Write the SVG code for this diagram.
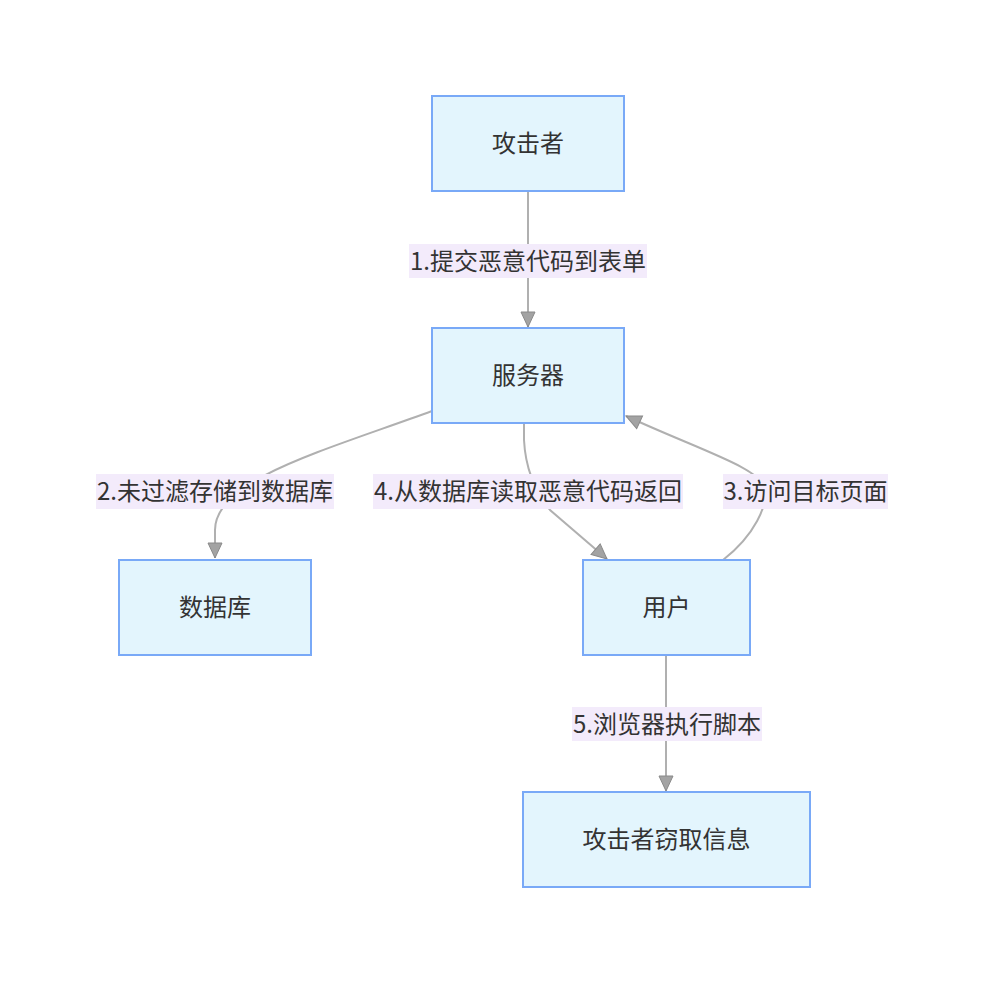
<svg xmlns="http://www.w3.org/2000/svg" width="984" height="984" viewBox="0 0 984 984">
<style>
.node rect{fill:#e3f5fd;stroke:#79a9f7;stroke-width:2}
.t{font-family:"Noto Sans CJK SC","Noto Sans",sans-serif;font-size:24px;fill:#333;text-anchor:middle;dominant-baseline:central}
.edge{fill:none;stroke:#b0b0b0;stroke-width:2}
.lbl rect{fill:#f3ebfb}
</style>
<defs>
<marker id="arr" markerUnits="userSpaceOnUse" markerWidth="18" markerHeight="18" viewBox="0 0 18 18" refX="16" refY="8" orient="auto">
<path d="M1,1 L16,8 L1,15 z" fill="#a3a3a3" stroke="#8a8a8a" stroke-width="1"/>
</marker>
</defs>
<rect width="984" height="984" fill="#fff"/>
<g id="edges">
<path class="edge" d="M528,191 L528,327" marker-end="url(#arr)"/>
<path class="edge" d="M432,411 C320,452 215,480 215,530 L215,558" marker-end="url(#arr)"/>
<path class="edge" d="M524,423 L524,440 Q526,480 550,510 L607,559" marker-end="url(#arr)"/>
<path class="edge" d="M723,560 C755,535 768,505 765,488 C760,468 700,450 626,416" marker-end="url(#arr)"/>
<path class="edge" d="M666,655 L666,791" marker-end="url(#arr)"/>
</g>
<g id="edge-labels">
<g class="lbl"><rect x="409" y="244" width="238" height="34"/><text class="t" x="528" y="259">1.提交恶意代码到表单</text></g>
<g class="lbl"><rect x="96" y="474" width="238" height="35"/><text class="t" x="215" y="489">2.未过滤存储到数据库</text></g>
<g class="lbl"><rect x="373" y="474" width="310" height="35"/><text class="t" x="528" y="489">4.从数据库读取恶意代码返回</text></g>
<g class="lbl"><rect x="723" y="474" width="165" height="35"/><text class="t" x="805.5" y="489">3.访问目标页面</text></g>
<g class="lbl"><rect x="572" y="707" width="190" height="34"/><text class="t" x="667" y="722">5.浏览器执行脚本</text></g>
</g>
<g id="attacker" class="node"><rect x="432" y="96" width="192" height="95"/><text class="t" x="528" y="141">攻击者</text></g>
<g id="server" class="node"><rect x="432" y="328" width="192" height="95"/><text class="t" x="528" y="373">服务器</text></g>
<g id="database" class="node"><rect x="119" y="560" width="192" height="95"/><text class="t" x="215" y="605">数据库</text></g>
<g id="user" class="node"><rect x="583" y="560" width="167" height="95"/><text class="t" x="666.5" y="605">用户</text></g>
<g id="steal" class="node"><rect x="523" y="792" width="287" height="95"/><text class="t" x="666.5" y="837">攻击者窃取信息</text></g>
</svg>
